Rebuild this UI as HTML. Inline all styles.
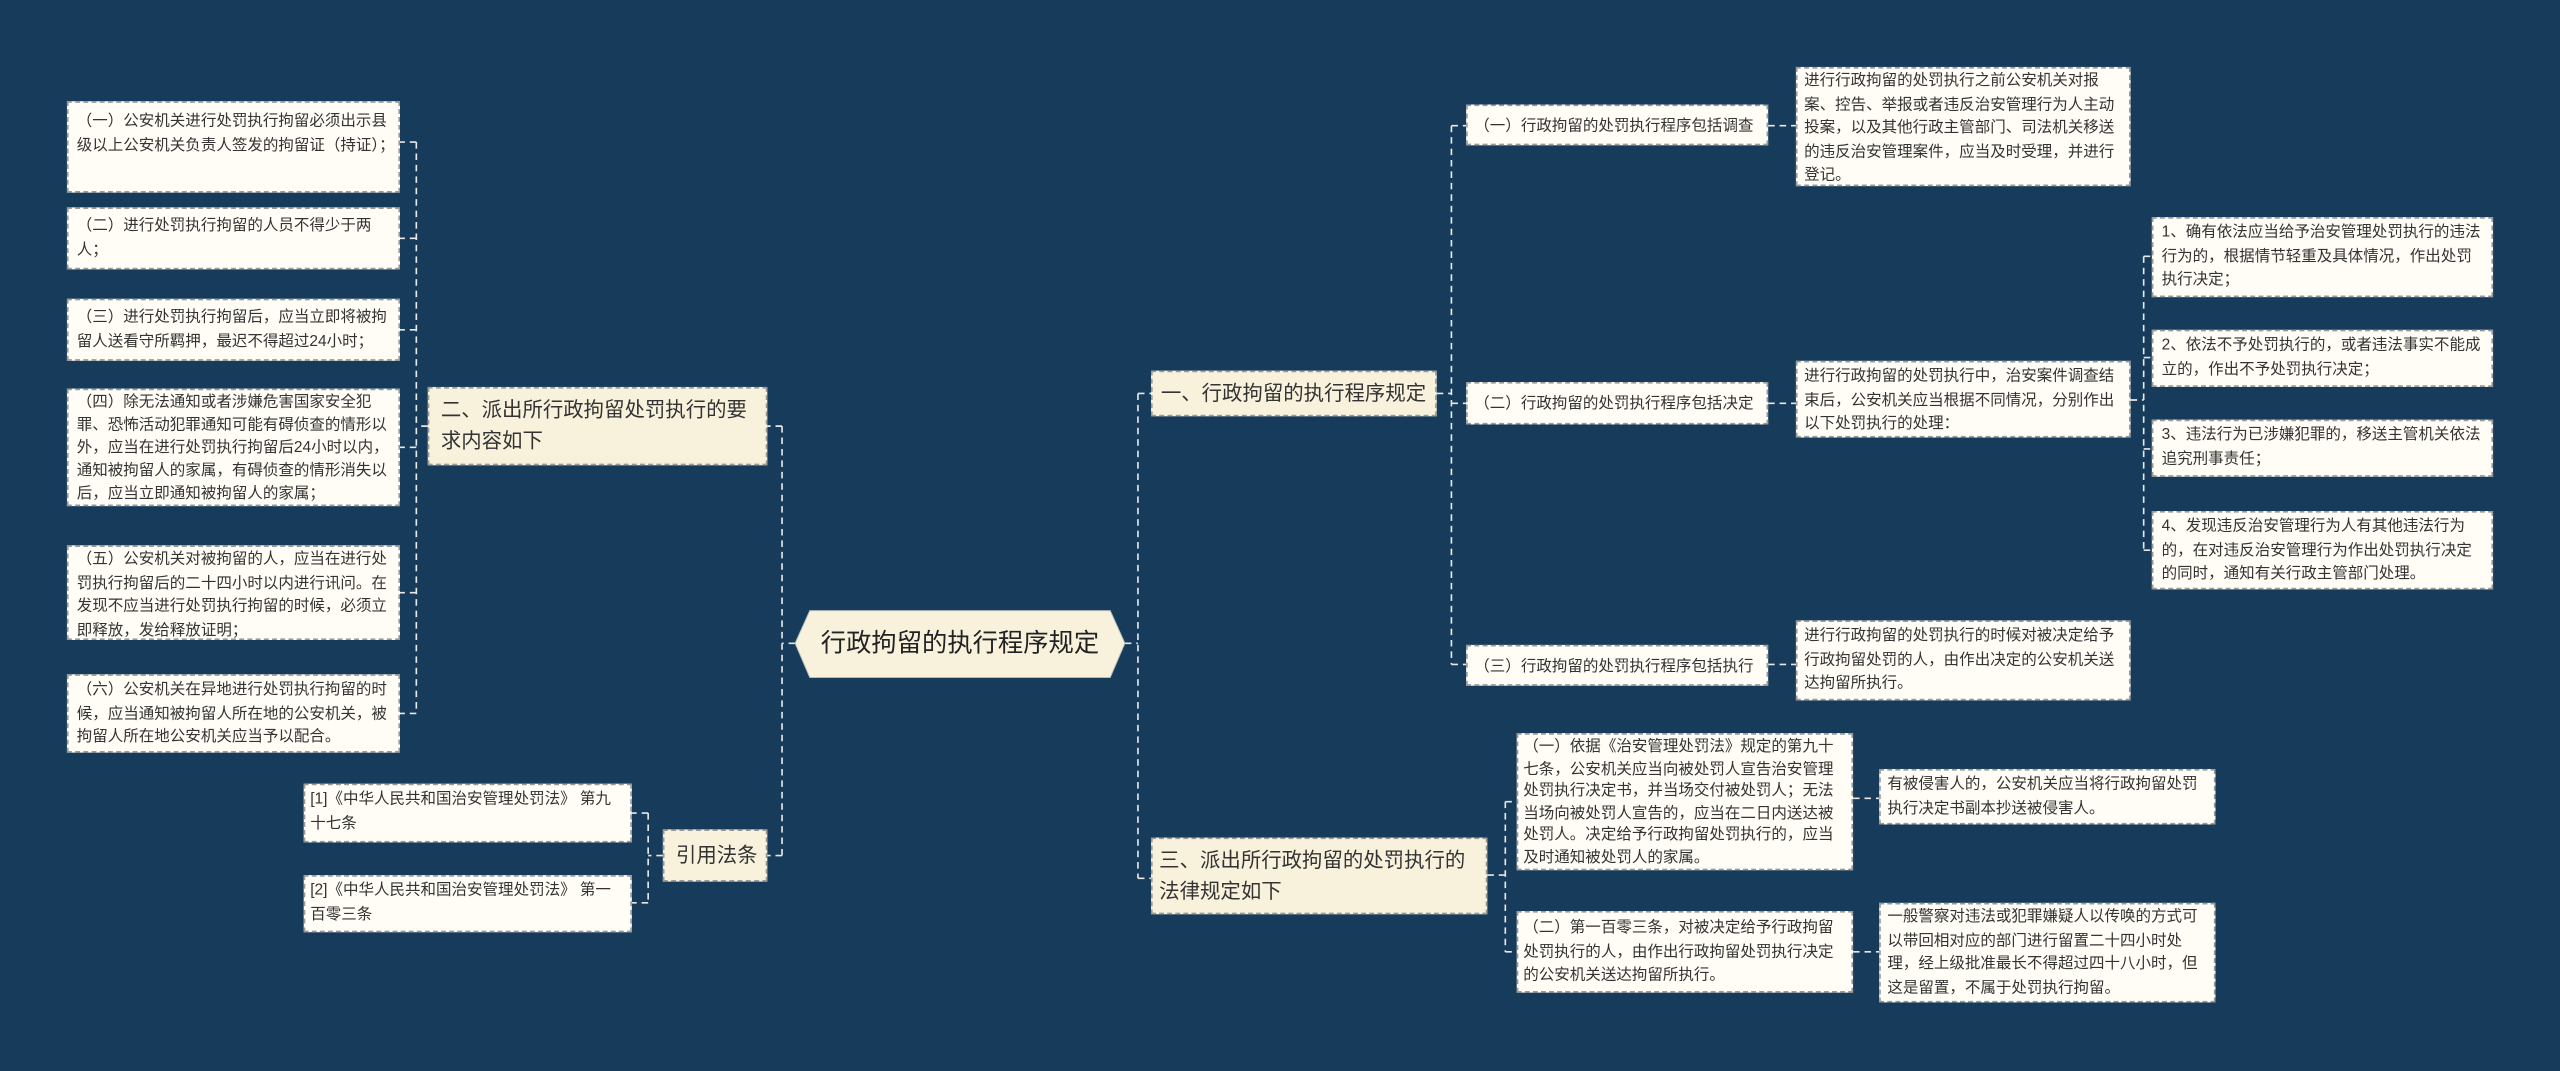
<!DOCTYPE html>
<html><head><meta charset="utf-8"><style>
html,body{margin:0;padding:0;background:#173c5b;width:2560px;height:1071px;overflow:hidden}
#c{position:absolute;left:0;top:0;width:1568px;height:656px;transform:scale(1.63265);transform-origin:0 0;font-family:"Liberation Sans","Noto Sans CJK SC",sans-serif;color:#333}
.n{position:absolute;box-sizing:border-box;background:#fffdf6;border:1px dashed #9a9a9a;font-size:9.5px;line-height:14.5px;padding:4px 2px 4px 5px;overflow:visible;word-break:break-all}
.m{background:#f8f2dd;font-size:12.5px;line-height:19px;padding:4px 7px}
.s{line-height:15px;padding:5px 4px;white-space:nowrap}
svg{position:absolute;left:0;top:0}
</style></head><body><div id="c">
<svg width="1568" height="656"><g fill="none" stroke="#e8e8e8" stroke-width="1" stroke-dasharray="4,3">
<path d="M487 394H479M479 261V524M479 261H470M479 524H470"/>
<path d="M262 261H255M255 87V437M255 87H245M255 146H245M255 202H245M255 274H245M255 363H245M255 437H245"/>
<path d="M406 524H397M397 498V553M397 498H387M397 553H387"/>
<path d="M689 394H697M697 241V538M697 241H705M697 538H705"/>
<path d="M880 241H889M889 77V407M889 77H898M889 247H898M889 407H898"/>
<path d="M1083 77H1100M1083 247H1100M1083 407H1100"/>
<path d="M1305 245H1313M1313 157V337M1313 157H1318M1313 219H1318M1313 275H1318M1313 337H1318"/>
<path d="M911 536H922M922 491V583M922 491H929M922 583H929"/>
<path d="M1135 489H1151M1135 583H1151"/>
</g></svg>
<svg width="1568" height="656"><polygon points="496,374 680,374 689,394 680,415 496,415 487,394" fill="#f8f2dd" stroke="#bbb" stroke-width="0.6"/></svg>
<div style="position:absolute;left:487px;top:374px;width:202px;height:41px;line-height:41px;text-align:center;font-size:15.5px;color:#222">行政拘留的执行程序规定</div>

<div class="n" style="left:41px;top:62px;width:204px;height:56px;padding-top:5px">（一）公安机关进行处罚执行拘留必须出示县级以上公安机关负责人签发的拘留证（持证）；</div>
<div class="n" style="left:41px;top:127px;width:204px;height:38px">（二）进行处罚执行拘留的人员不得少于两人；</div>
<div class="n" style="left:41px;top:183px;width:204px;height:38px">（三）进行处罚执行拘留后，应当立即将被拘留人送看守所羁押，最迟不得超过24小时；</div>
<div class="n" style="left:41px;top:238px;width:204px;height:72px;padding-top:1px;line-height:14px">（四）除无法通知或者涉嫌危害国家安全犯罪、恐怖活动犯罪通知可能有碍侦查的情形以外，应当在进行处罚执行拘留后24小时以内，通知被拘留人的家属，有碍侦查的情形消失以后，应当立即通知被拘留人的家属；</div>
<div class="n" style="left:41px;top:334px;width:204px;height:58px;padding-top:1px">（五）公安机关对被拘留的人，应当在进行处罚执行拘留后的二十四小时以内进行讯问。在发现不应当进行处罚执行拘留的时候，必须立即释放，发给释放证明；</div>
<div class="n" style="left:41px;top:413px;width:204px;height:48px;padding-top:2px">（六）公安机关在异地进行处罚执行拘留的时候，应当通知被拘留人所在地的公安机关，被拘留人所在地公安机关应当予以配合。</div>

<div class="n m" style="left:262px;top:237px;width:208px;height:48px">二、派出所行政拘留处罚执行的要求内容如下</div>
<div class="n m" style="left:406px;top:508px;width:64px;height:32px;padding:6px 7px;white-space:nowrap">引用法条</div>
<div class="n" style="left:186px;top:480px;width:201px;height:36px;padding:2px 3px">[1]《中华人民共和国治安管理处罚法》 第九十七条</div>
<div class="n" style="left:186px;top:536px;width:201px;height:35px;padding:2px 3px">[2]《中华人民共和国治安管理处罚法》 第一百零三条</div>

<div class="n m" style="left:705px;top:227px;width:175px;height:28px;padding:4px 5px;white-space:nowrap">一、行政拘留的执行程序规定</div>
<div class="n m" style="left:705px;top:513px;width:206px;height:47px;padding:4px 4px">三、派出所行政拘留的处罚执行的法律规定如下</div>

<div class="n s" style="left:898px;top:64px;width:185px;height:25px">（一）行政拘留的处罚执行程序包括调查</div>
<div class="n s" style="left:898px;top:234px;width:185px;height:26px">（二）行政拘留的处罚执行程序包括决定</div>
<div class="n s" style="left:898px;top:395px;width:185px;height:25px">（三）行政拘留的处罚执行程序包括执行</div>

<div class="n" style="left:1100px;top:41px;width:205px;height:73px;padding:1px 2px 1px 4px">进行行政拘留的处罚执行之前公安机关对报案、控告、举报或者违反治安管理行为人主动投案，以及其他行政主管部门、司法机关移送的违反治安管理案件，应当及时受理，并进行登记。</div>
<div class="n" style="left:1100px;top:221px;width:205px;height:47px;padding:2px 2px 2px 4px">进行行政拘留的处罚执行中，治安案件调查结束后，公安机关应当根据不同情况，分别作出以下处罚执行的处理：</div>
<div class="n" style="left:1100px;top:380px;width:205px;height:49px;padding:2px 2px 2px 4px">进行行政拘留的处罚执行的时候对被决定给予行政拘留处罚的人，由作出决定的公安机关送达拘留所执行。</div>

<div class="n" style="left:1318px;top:133px;width:209px;height:49px;padding:2px 4px 1px 5px">1、确有依法应当给予治安管理处罚执行的违法行为的，根据情节轻重及具体情况，作出处罚执行决定；</div>
<div class="n" style="left:1318px;top:202px;width:209px;height:35px;padding:2px 4px 2px 5px">2、依法不予处罚执行的，或者违法事实不能成立的，作出不予处罚执行决定；</div>
<div class="n" style="left:1318px;top:257px;width:209px;height:35px;padding:2px 4px 2px 5px">3、违法行为已涉嫌犯罪的，移送主管机关依法追究刑事责任；</div>
<div class="n" style="left:1318px;top:313px;width:209px;height:48px;padding:2px 4px 2px 5px">4、发现违反治安管理行为人有其他违法行为的，在对违反治安管理行为作出处罚执行决定的同时，通知有关行政主管部门处理。</div>

<div class="n" style="left:929px;top:449px;width:206px;height:84px;padding:1px 3px 1px 3px;line-height:13.6px">（一）依据《治安管理处罚法》规定的第九十七条，公安机关应当向被处罚人宣告治安管理处罚执行决定书，并当场交付被处罚人；无法当场向被处罚人宣告的，应当在二日内送达被处罚人。决定给予行政拘留处罚执行的，应当及时通知被处罚人的家属。</div>
<div class="n" style="left:929px;top:558px;width:206px;height:50px;padding:3px 3px 3px 3px">（二）第一百零三条，对被决定给予行政拘留处罚执行的人，由作出行政拘留处罚执行决定的公安机关送达拘留所执行。</div>
<div class="n" style="left:1151px;top:471px;width:206px;height:34px;padding:2px 4px 2px 4px">有被侵害人的，公安机关应当将行政拘留处罚执行决定书副本抄送被侵害人。</div>
<div class="n" style="left:1151px;top:553px;width:206px;height:61px;padding:1px 4px 1px 4px">一般警察对违法或犯罪嫌疑人以传唤的方式可以带回相对应的部门进行留置二十四小时处理，经上级批准最长不得超过四十八小时，但这是留置，不属于处罚执行拘留。</div>
</div></body></html>
